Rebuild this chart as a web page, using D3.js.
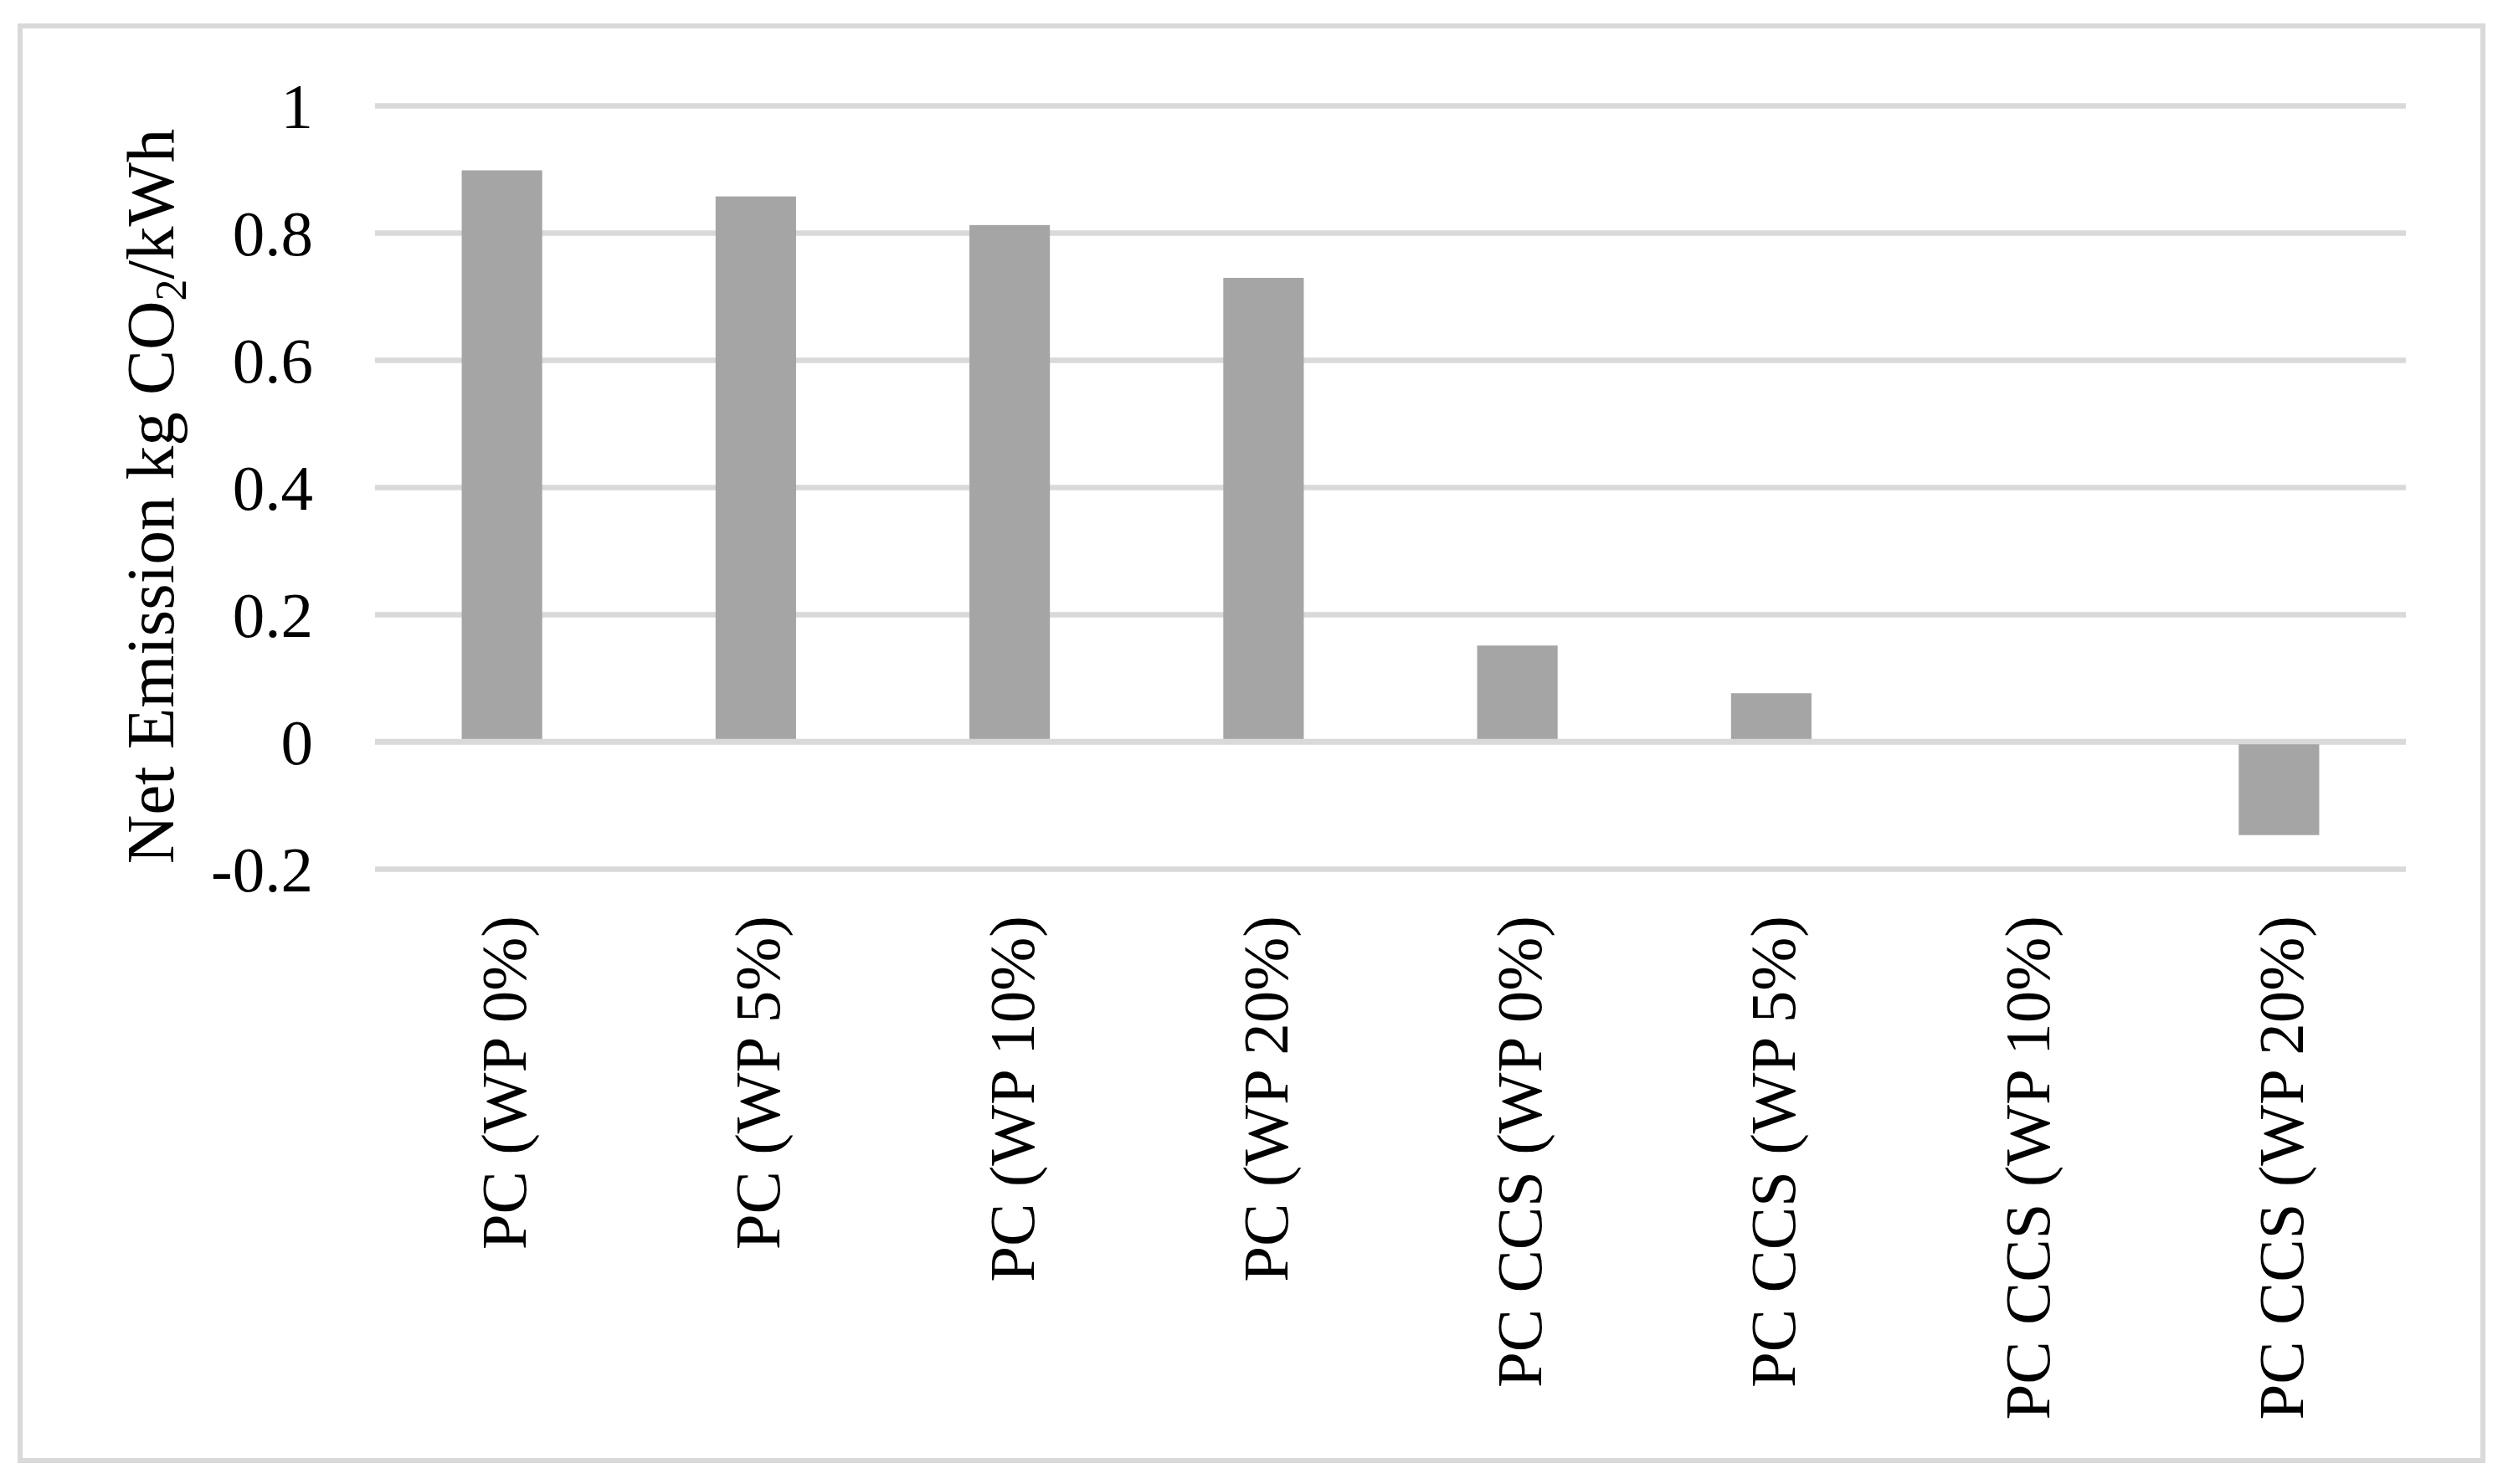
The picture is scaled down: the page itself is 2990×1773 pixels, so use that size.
<!DOCTYPE html>
<meta charset="utf-8">
<script src="https://d3js.org/d3.v7.min.js"></script>
<style>
  body { margin: 0; background: #fff; }
  svg text { font-family: "Palatino Linotype", "Book Antiqua", Palatino, "Liberation Serif", serif; fill: #000; }
</style>
<body>
<div id="chart"></div>
<script>
  // chart values
  var categories = ["PC (WP 0%)", "PC (WP 5%)", "PC (WP 10%)", "PC (WP 20%)",
    "PC CCS (WP 0%)", "PC CCS (WP 5%)", "PC CCS (WP 10%)", "PC CCS (WP 20%)"];
  var netEmission = [0.898, 0.857, 0.812, 0.729, 0.151, 0.076, 0, -0.147];
  var yTicks = [-0.2, 0, 0.2, 0.4, 0.6, 0.8, 1];
  var yTickLabels = ["-0.2", "0", "0.2", "0.4", "0.6", "0.8", "1"];

  var width = 2990, height = 1773;
  var plot = { left: 448, right: 2874, top: 126, bottom: 1038 };

  var svg = d3.select("#chart").append("svg")
    .attr("width", width)
    .attr("height", height);

  // outer frame
  svg.append("rect")
    .attr("x", 24).attr("y", 31)
    .attr("width", 2942).attr("height", 1714)
    .attr("fill", "none")
    .attr("stroke", "#d9d9d9")
    .attr("stroke-width", 6);

  var x = d3.scaleBand()
    .domain(categories)
    .range([plot.left, plot.right])
    .paddingInner(0.683)
    .paddingOuter(0.3415);

  var y = d3.scaleLinear()
    .domain([-0.2, 1])
    .range([plot.bottom, plot.top]);

  // y axis + gridlines
  var yAxis = svg.append("g")
    .attr("transform", "translate(" + plot.left + ",0)")
    .call(d3.axisLeft(y)
      .tickValues(yTicks)
      .tickSize(-(plot.right - plot.left))
      .tickPadding(74)
      .tickFormat(function (d, i) { return yTickLabels[i]; }));
  yAxis.select(".domain").remove();
  yAxis.selectAll("line")
    .attr("stroke", "#d9d9d9")
    .attr("stroke-width", 6.5);
  yAxis.selectAll("text")
    .attr("font-size", 77)
    .attr("dy", "0.34em");

  // bars
  svg.append("g")
    .selectAll("rect")
    .data(netEmission)
    .enter()
    .append("rect")
    .attr("x", function (d, i) { return x(categories[i]); })
    .attr("width", x.bandwidth())
    .attr("y", function (d) { return y(Math.max(0, d)); })
    .attr("height", function (d) { return Math.abs(y(d) - y(0)); })
    .attr("fill", "#a5a5a5");

  // zero line drawn over the bars
  svg.append("line")
    .attr("x1", plot.left).attr("x2", plot.right)
    .attr("y1", y(0)).attr("y2", y(0))
    .attr("stroke", "#d9d9d9")
    .attr("stroke-width", 6.5);

  // x axis labels (rotated)
  var xAxis = svg.append("g")
    .attr("transform", "translate(0," + plot.bottom + ")")
    .call(d3.axisBottom(x).tickSize(0));
  xAxis.select(".domain").remove();
  xAxis.selectAll("text")
    .attr("font-size", 77)
    .attr("transform", "rotate(-90)")
    .attr("text-anchor", "end")
    .attr("x", -56)
    .attr("y", 0)
    .attr("dy", "0.37em");

  // y axis title
  var title = svg.append("text")
    .attr("transform", "translate(207,593) rotate(-90)")
    .attr("text-anchor", "middle")
    .attr("font-size", 81);
  title.append("tspan").text("Net Emission kg CO");
  title.append("tspan").attr("font-size", 52).attr("dy", 15).text("2");
  title.append("tspan").attr("dy", -15).text("/kWh");
</script>
</body>
